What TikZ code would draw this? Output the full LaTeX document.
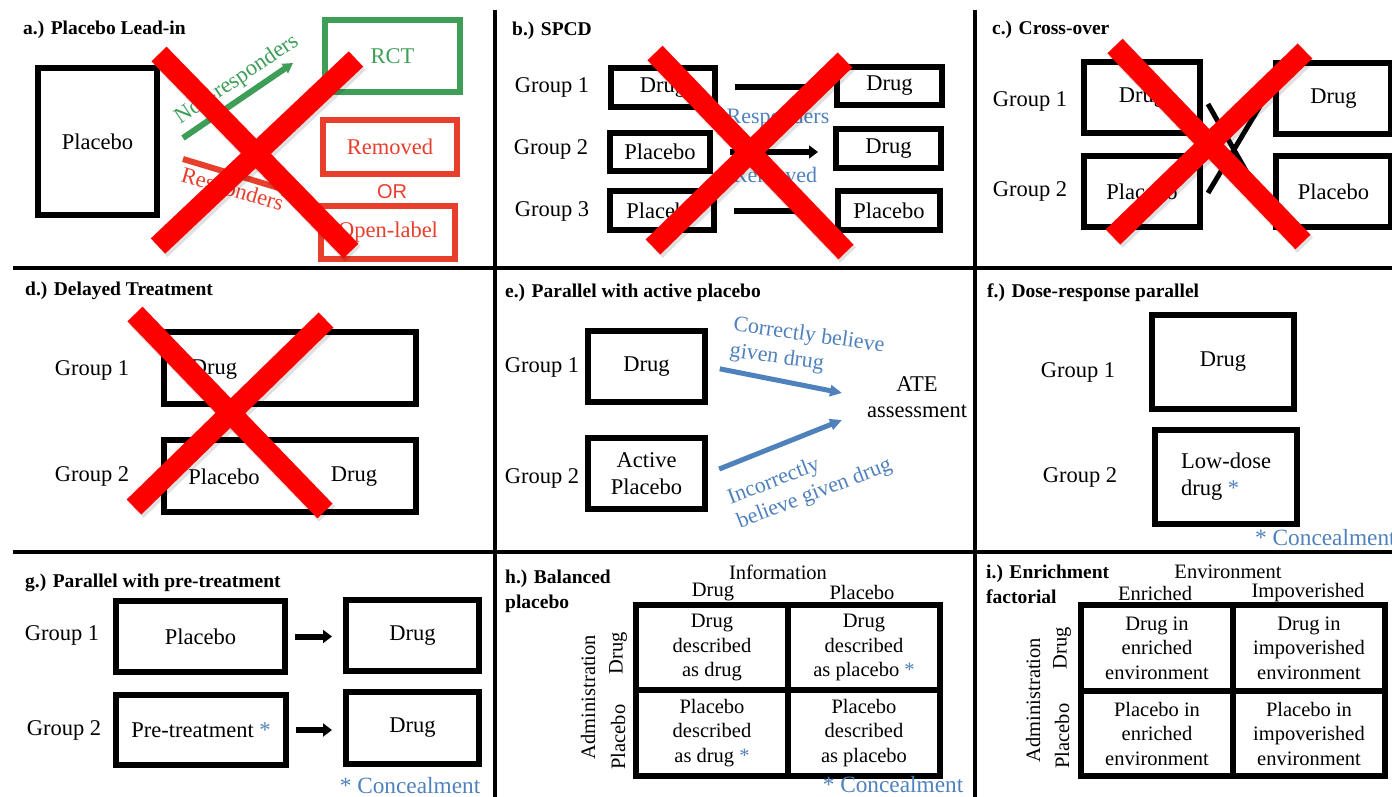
\documentclass[tikz,border=0pt]{standalone}
\usepackage{fontspec}
\setmainfont{Liberation Serif}
\setsansfont{Liberation Sans}
\usepackage{tikz}
\usetikzlibrary{arrows.meta}
\definecolor{palettecolorgreen}{RGB}{62,158,88}
\definecolor{palettecolorred}{RGB}{232,62,44}
\definecolor{palettecolorblue}{RGB}{79,129,189}
\definecolor{palettecolorx}{RGB}{255,0,0}

\begin{document}
\begin{tikzpicture}[x=1pt, y=-1pt,
    armbox/.style={draw=black, line width=6pt, inner sep=0pt, align=center, font=\fontsize{22.5}{27}\selectfont},
    cellbox/.style={draw=black, line width=6pt, inner sep=0pt, align=center, minimum width=152pt, minimum height=85.5pt, font=\fontsize{20.5}{24.5}\selectfont},
    grouplabel/.style={inner sep=0pt, align=center, font=\fontsize{22.5}{26}\selectfont},
    axislabel/.style={inner sep=0pt, align=center, font=\fontsize{20.5}{24.5}\selectfont},
    paneltitle/.style={inner sep=0pt, anchor=base west, align=left, font=\fontsize{19.5}{25}\selectfont\bfseries},
    bluenote/.style={inner sep=0pt, text=palettecolorblue, font=\fontsize{22}{26}\selectfont},
    concealnote/.style={bluenote, font=\fontsize{23.3}{26}\selectfont},
    panelline/.style={draw=black, line width=4pt},
    flowarrow/.style={draw=black, line width=6pt, -{Triangle[length=9pt, width=13pt]}},
    bluearrow/.style={draw=palettecolorblue, line width=5pt, -{Triangle[length=12pt, width=11pt]}},
    swapline/.style={draw=black, line width=5pt},
    crossout/.style={draw=palettecolorx, line width=21pt},
    crossshadow/.style={draw=black, opacity=0.12, line width=22pt},
]
\useasboundingbox (0,0) rectangle (1392,797);

\draw[panelline] (13,268) -- (1392,268);
\draw[panelline] (13,552) -- (1392,552);
\draw[panelline] (495,10) -- (495,797);
\draw[panelline] (975,10) -- (975,797);

\begin{scope}
\node[paneltitle] (ta) at (23,35) {a.) Placebo Lead-in};
\node[armbox, minimum width=119pt, minimum height=147pt] (aplacebo) at (97.5,141.5) {Placebo};
\node[armbox, draw=palettecolorgreen, text=palettecolorgreen, minimum width=135pt, minimum height=72pt] (arct) at (392.5,56) {RCT};
\node[armbox, draw=palettecolorred, text=palettecolorred, minimum width=134pt, minimum height=54pt] (aremoved) at (390,147) {Removed};
\node[grouplabel, text=palettecolorred, font=\sffamily\fontsize{20}{24}\selectfont] (aor) at (392,192) {OR};
\node[armbox, draw=palettecolorred, text=palettecolorred, minimum width=134pt, minimum height=53pt] (aopen) at (388,232.5) {Open-label};
\coordinate (anonfrom) at (183,138);
\coordinate (anonto) at (293,63);
\coordinate (arespfrom) at (183,159);
\coordinate (arespto) at (292,192);
\draw[flowarrow, draw=palettecolorgreen, -{Triangle[length=10pt, width=11pt]}] (anonfrom) -- (anonto);
\node[grouplabel, text=palettecolorgreen, rotate=34] (anonlabel) at (237,80) {Non-responders};
\draw[flowarrow, draw=palettecolorred] (arespfrom) -- (arespto);
\node[grouplabel, text=palettecolorred, rotate=-16] (aresplabel) at (232,191) {Responders};
\draw[crossshadow] (161,57) -- (353,254);
\draw[crossshadow] (358,62) -- (160,249);
\draw[crossout] (159,54) -- (351,251);
\draw[crossout] (356,59) -- (158,246);
\end{scope}

\begin{scope}
\node[paneltitle] (tb) at (512,36) {b.) SPCD};
\node[grouplabel] (bg1) at (552,87) {Group 1};
\node[grouplabel] (bg2) at (551,149) {Group 2};
\node[grouplabel] (bg3) at (552,211) {Group 3};
\node[armbox, minimum width=104pt, minimum height=39pt] (bl1) at (663,87.5) {Drug};
\node[armbox, minimum width=100pt, minimum height=38pt] (bl2) at (660,152) {Placebo};
\node[armbox, minimum width=104pt, minimum height=39pt] (bl3) at (662,210.5) {Placebo};
\node[armbox, minimum width=105pt, minimum height=38pt] (br1) at (889.5,86) {Drug};
\node[armbox, minimum width=105pt, minimum height=39pt] (br2) at (888.5,148.5) {Drug};
\node[armbox, minimum width=102pt, minimum height=39pt] (br3) at (889,210.5) {Placebo};
\draw[flowarrow, shorten <=17pt, shorten >=15pt] (bl1.east) -- (bl1.east -| br1.west);
\draw[flowarrow, shorten <=17pt, shorten >=15pt] (bl2.east) -- (bl2.east -| br2.west);
\draw[flowarrow, shorten <=17pt, shorten >=15pt] (bl3.east) -- (bl3.east -| br3.west);
\node[bluenote] (bresp) at (778,118) {Responders};
\node[bluenote] (bremoved) at (775,175) {Removed};
\draw[crossshadow] (657,56) -- (848,255);
\draw[crossshadow] (847,63) -- (655,250);
\draw[crossout] (655,53) -- (846,252);
\draw[crossout] (845,60) -- (653,247);
\end{scope}

\begin{scope}
\node[paneltitle] (tc) at (992,35) {c.) Cross-over};
\node[grouplabel] (cg1) at (1030,101) {Group 1};
\node[grouplabel] (cg2) at (1030,191) {Group 2};
\node[armbox, minimum width=116pt, minimum height=71pt] (cl1) at (1142,97.5) {Drug};
\node[armbox, minimum width=116pt, minimum height=71pt] (cl2) at (1142,191.5) {Placebo};
\node[armbox, minimum width=115pt, minimum height=71pt] (cr1) at (1333.5,98.5) {Drug};
\node[armbox, minimum width=115pt, minimum height=71pt] (cr2) at (1333.5,191.5) {Placebo};
\coordinate (cdrugout) at (1208,104);
\coordinate (cplaceboin) at (1258,192);
\coordinate (cplaceboout) at (1208,193);
\coordinate (cdrugin) at (1260,106);
\draw[swapline] (cdrugout) -- (cplaceboin);
\draw[swapline] (cplaceboout) -- (cdrugin);
\draw[crossshadow] (1117,49) -- (1305,245);
\draw[crossshadow] (1307,54) -- (1115,240);
\draw[crossout] (1115,46) -- (1303,242);
\draw[crossout] (1305,51) -- (1113,237);
\end{scope}

\begin{scope}
\node[paneltitle] (td) at (25,295) {d.) Delayed Treatment};
\node[grouplabel] (dg1) at (92,370) {Group 1};
\node[grouplabel] (dg2) at (92,476) {Group 2};
\node[armbox, minimum width=252pt, minimum height=72pt] (d1) at (290,368) {};
\node[armbox, minimum width=252pt, minimum height=72pt] (d2) at (290,476) {};
\node[grouplabel] (d1drug) at (214,370) {Drug};
\node[grouplabel] (d2placebo) at (224,477) {Placebo};
\node[grouplabel] (d2drug) at (354,477) {Drug};
\draw[crossshadow] (137,317) -- (327,514);
\draw[crossshadow] (328,323) -- (136,510);
\draw[crossout] (135,314) -- (325,511);
\draw[crossout] (326,320) -- (134,507);
\end{scope}

\begin{scope}
\node[paneltitle] (te) at (505,297) {e.) Parallel with active placebo};
\node[grouplabel] (eg1) at (542,367) {Group 1};
\node[grouplabel] (eg2) at (542,478) {Group 2};
\node[armbox, minimum width=117pt, minimum height=71pt] (e1) at (646.5,366.5) {Drug};
\node[armbox, minimum width=117pt, minimum height=71pt] (e2) at (646.5,473.5) {Active\\Placebo};
\node[grouplabel] (eate) at (917,397) {ATE\\assessment};
\coordinate (eatein1) at (842,393);
\coordinate (eatein2) at (842,420);
\draw[bluearrow, shorten <=12pt] (e1.east) -- (eatein1);
\draw[bluearrow, shorten <=12pt] (e2.east) -- (eatein2);
\node[bluenote, align=left, rotate=-8] (ecorrect) at (807,349) {Correctly believe\\given drug};
\node[bluenote, align=left, rotate=21] (eincorrect) at (810,482) {Incorrectly\\believe given drug};
\end{scope}

\begin{scope}
\node[paneltitle] (tf) at (987,297) {f.) Dose-response parallel};
\node[grouplabel] (fg1) at (1078,372) {Group 1};
\node[grouplabel] (fg2) at (1080,477) {Group 2};
\node[armbox, minimum width=142pt, minimum height=94pt] (f1) at (1223,362) {Drug};
\node[armbox, align=left, minimum width=142pt, minimum height=94pt] (f2) at (1226,477) {Low-dose\\drug \textcolor{palettecolorblue}{*}};
\node[concealnote, anchor=west] (fnote) at (1255,538) {* Concealment};
\end{scope}

\begin{scope}
\node[paneltitle] (tg) at (25,587) {g.) Parallel with pre-treatment};
\node[grouplabel] (gg1) at (62,635) {Group 1};
\node[grouplabel] (gg2) at (64,730) {Group 2};
\node[armbox, minimum width=169pt, minimum height=71pt] (gl1) at (200.5,636.5) {Placebo};
\node[armbox, minimum width=170pt, minimum height=70pt] (gl2) at (201,730) {Pre-treatment \textcolor{palettecolorblue}{*}};
\node[armbox, minimum width=133pt, minimum height=71pt] (gr1) at (412.5,635.5) {Drug};
\node[armbox, minimum width=133pt, minimum height=72pt] (gr2) at (412.5,728) {Drug};
\draw[flowarrow, shorten <=7pt, shorten >=11pt] (gl1.east) -- (gl1.east -| gr1.west);
\draw[flowarrow, shorten <=7pt, shorten >=11pt] (gl2.east) -- (gl2.east -| gr2.west);
\node[concealnote] (gnote) at (410,786) {* Concealment};
\end{scope}

\begin{scope}
\node[paneltitle, anchor=north west] (th) at (505,570) {h.) Balanced\\placebo};
\node[axislabel] (hinfo) at (778,572) {Information};
\node[axislabel] (hcoldrug) at (713,592) {Drug};
\node[axislabel] (hcolplacebo) at (862,592) {Placebo};
\node[axislabel, rotate=90] (hadmin) at (588,697) {Administration};
\node[axislabel, rotate=90] (hrowdrug) at (618,653) {Drug};
\node[axislabel, rotate=90] (hrowplacebo) at (618,737) {Placebo};
\node[cellbox] (hdd) at (712,647.5) {Drug\\described\\as drug};
\node[cellbox] (hdp) at (864,647.5) {Drug\\described\\as placebo \textcolor{palettecolorblue}{*}};
\node[cellbox] (hpd) at (712,733) {Placebo\\described\\as drug \textcolor{palettecolorblue}{*}};
\node[cellbox] (hpp) at (864,733) {Placebo\\described\\as placebo};
\node[concealnote] (hnote) at (893,785) {* Concealment};
\end{scope}

\begin{scope}
\node[paneltitle, anchor=north west] (ti) at (986,565) {i.) Enrichment\\factorial};
\node[axislabel] (ienv) at (1228,572) {Environment};
\node[axislabel] (icolenriched) at (1155,593) {Enriched};
\node[axislabel] (icolpoor) at (1308,593) {Impoverished};
\node[axislabel, rotate=90] (iadmin) at (1033,700) {Administration};
\node[axislabel, rotate=90] (irowdrug) at (1062,648) {Drug};
\node[axislabel, rotate=90] (irowplacebo) at (1062,736) {Placebo};
\node[cellbox] (ide) at (1157,648) {Drug in\\enriched\\environment};
\node[cellbox] (idp) at (1309,648) {Drug in\\impoverished\\environment};
\node[cellbox] (ipe) at (1157,733.5) {Placebo in\\enriched\\environment};
\node[cellbox] (ipp) at (1309,733.5) {Placebo in\\impoverished\\environment};
\end{scope}

\end{tikzpicture}
\end{document}
